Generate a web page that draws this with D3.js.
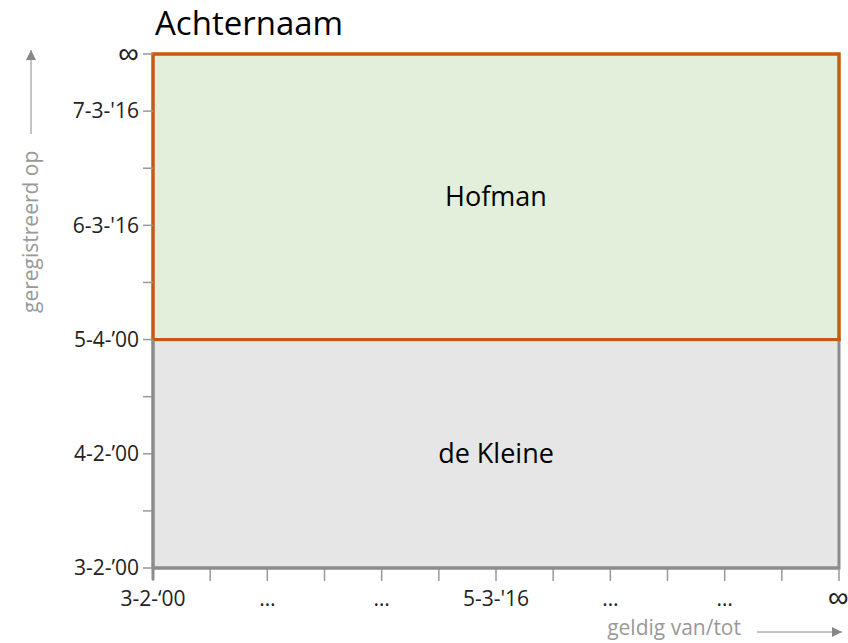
<!DOCTYPE html>
<html><head><meta charset="utf-8">
<script src="https://cdn.jsdelivr.net/npm/d3@7"></script>
<style>body{margin:0;background:#fff}svg{display:block}text{font-family:"Open Sans","Noto Sans",sans-serif}text.inf{font-family:"Liberation Sans","DejaVu Sans",sans-serif}</style>
</head><body><svg id="c" width="848" height="643"></svg>
<script>
// tick positions (index) and labels
const yTickIdx = [0,1,2,3,4,5,6,7,8,9];
const yTickLabels = ["3-2-\u201900","","4-2-\u201900","","5-4-\u201900","","6-3-'16","","7-3-'16","\u221E"];
const xTickIdx = [0,1,2,3,4,5,6,7,8,9,10,11,12];
const xTickLabels = ["3-2-\u201800","","\u2026","","\u2026","","5-3-'16","","\u2026","","\u2026","","\u221E"];
// periods: name, valid from/to index, registered from/to index
const names = ["de Kleine","Hofman"];
const validFrom = [0,0];
const validTo = [12,12];
const regFrom = [0,4];
const regTo = [4,9];
const fills = ["#E6E6E6","#E2EFDA"];
const strokes = ["#8C8C8C","#C55A11"];

const svg = d3.select("#c");
const x = d3.scaleLinear().domain([0,12]).range([153,839]);
const y = d3.scaleLinear().domain([0,9]).range([568,54]);

svg.append("text").attr("x",155).attr("y",35).attr("font-size",33).attr("fill","#000").text("Achternaam");

names.forEach((n,i)=>{
  svg.append("rect").attr("x",x(validFrom[i])).attr("y",y(regTo[i]))
    .attr("width",x(validTo[i])-x(validFrom[i])).attr("height",y(regFrom[i])-y(regTo[i]))
    .attr("fill",fills[i]).attr("stroke",strokes[i]).attr("stroke-width",3);
});
names.forEach((n,i)=>{
  svg.append("text").attr("x",(x(validFrom[i])+x(validTo[i]))/2).attr("y",(y(regFrom[i])+y(regTo[i]))/2)
    .attr("text-anchor","middle").attr("dy","0.35em").attr("font-size",27).attr("fill","#000").text(n);
});
svg.append("rect").attr("x",x(validFrom[1])).attr("y",y(regTo[1]))
  .attr("width",x(validTo[1])-x(validFrom[1])).attr("height",y(regFrom[1])-y(regTo[1]))
  .attr("fill","none").attr("stroke",strokes[1]).attr("stroke-width",3);

const gy = svg.append("g");
yTickIdx.forEach((t,i)=>{
  gy.append("line").attr("x1",143).attr("x2",x(0)).attr("y1",y(t)).attr("y2",y(t)).attr("stroke","#999").attr("stroke-width",1.5);
  const inf = yTickLabels[i]=="\u221E";
  if(!yTickLabels[i]) return;
  if(inf) gy.append("text").attr("class","inf").attr("x",139).attr("y",y(t)+9).attr("text-anchor","end")
    .attr("font-size",29).attr("fill","#222").text(yTickLabels[i]);
  else gy.append("text").attr("x",139).attr("y",y(t)).attr("dy","0.35em").attr("text-anchor","end")
    .attr("font-size",21).attr("fill","#222").text(yTickLabels[i]);
});
const gx = svg.append("g");
xTickIdx.forEach((t,i)=>{
  gx.append("line").attr("x1",x(t)).attr("x2",x(t)).attr("y1",y(0)).attr("y2",581).attr("stroke","#999").attr("stroke-width",1.5);
  const inf = xTickLabels[i]=="\u221E";
  if(!xTickLabels[i]) return;
  if(inf) gx.append("text").attr("class","inf").attr("x",x(t)-11).attr("y",607).attr("text-anchor","start")
    .attr("font-size",29).attr("fill","#222").text(xTickLabels[i]);
  else gx.append("text").attr("x",x(t)).attr("y",606).attr("text-anchor","middle")
    .attr("font-size",21).attr("fill","#222").text(xTickLabels[i]);
});
svg.append("line").attr("x1",x(0)).attr("x2",x(0)).attr("y1",y(4)).attr("y2",580).attr("stroke","#8C8C8C").attr("stroke-width",3);
svg.append("line").attr("x1",x(0)).attr("x2",x(12)).attr("y1",y(0)).attr("y2",y(0)).attr("stroke","#8C8C8C").attr("stroke-width",3);

const defs = svg.append("defs");
defs.append("marker").attr("id","ah").attr("viewBox","0 0 10 10").attr("refX",10).attr("refY",5)
  .attr("markerWidth",10).attr("markerHeight",10).attr("markerUnits","userSpaceOnUse").attr("orient","auto")
  .append("path").attr("d","M0,0L10,5L0,10Z").attr("fill","#888");
svg.append("text").attr("x",741).attr("y",635).attr("text-anchor","end").attr("font-size",21).attr("fill","#999").text("geldig van/tot");
svg.append("line").attr("x1",757).attr("x2",842).attr("y1",632).attr("y2",632).attr("stroke","#888").attr("stroke-width",1).attr("marker-end","url(#ah)");
svg.append("text").attr("transform","translate(38,313) rotate(-90)").attr("font-size",21).attr("fill","#999").text("geregistreerd op");
svg.append("line").attr("x1",31).attr("x2",31).attr("y1",134).attr("y2",50).attr("stroke","#888").attr("stroke-width",1).attr("marker-end","url(#ah)");
</script></body></html>
